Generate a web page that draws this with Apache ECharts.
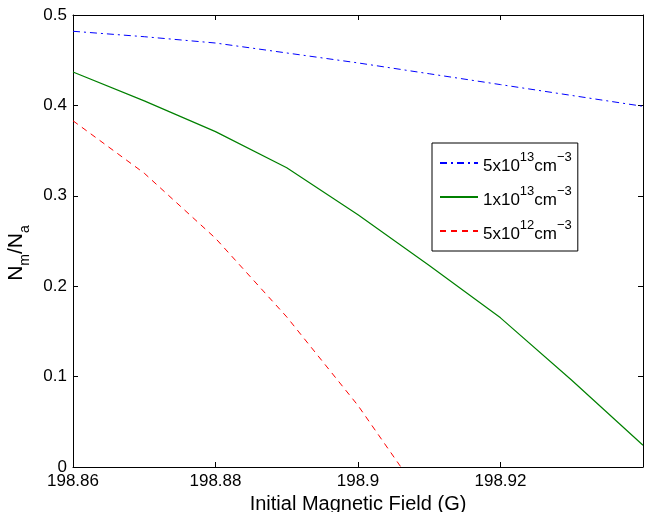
<!DOCTYPE html>
<html>
<head>
<meta charset="utf-8">
<script src="https://cdn.jsdelivr.net/npm/echarts@6/dist/echarts.min.js"></script>
<style>
  html, body { margin: 0; padding: 0; background: #fff; }
  #chart { width: 645px; height: 512px; }
</style>
</head>
<body>
<div id="chart"></div>
<script>
// 初始磁场 (G)
var fieldX = [198.86, 198.87, 198.88, 198.89, 198.90, 198.91, 198.92, 198.93, 198.94];
// N_m/N_a for three densities
var dens5e13 = [0.482, 0.476, 0.469, 0.458, 0.447, 0.435, 0.423, 0.411, 0.399];
var dens1e13 = [0.437, 0.405, 0.371, 0.331, 0.279, 0.223, 0.165, 0.096, 0.024];
var dens5e12 = [0.383, 0.325, 0.253, 0.166, 0.068, -0.045];
var seriesNames = ['5e13', '1e13', '5e12'];
var legendText = {
  '5e13': '{b|5x10}{sup|13}{b|cm}{sup|\u22123}',
  '1e13': '{b|1x10}{sup|13}{b|cm}{sup|\u22123}',
  '5e12': '{b|5x10}{sup|12}{b|cm}{sup|\u22123}'
};

function pairs(xs, ys) {
  var out = [];
  for (var i = 0; i < ys.length; i++) out.push([xs[i], ys[i]]);
  return out;
}

var chart = echarts.init(document.getElementById('chart'));
var font = 'Liberation Sans, Arial, sans-serif';

chart.setOption({
  animation: false,
  backgroundColor: '#fff',
  textStyle: { fontFamily: font, color: '#000' },
  grid: { left: 73, right: 2, top: 15, bottom: 45, containLabel: false, outerBoundsMode: 'none' },
  legend: {
    orient: 'vertical',
    left: 432,
    top: 143,
    data: seriesNames,
    backgroundColor: '#fff',
    borderColor: '#000',
    borderWidth: 1,
    padding: [8, 6, 8, 7],
    itemGap: 10,
    itemWidth: 38,
    itemHeight: 12,
    selectedMode: false,
    itemStyle: { opacity: 0 },
    formatter: function (name) { return legendText[name]; },
    textStyle: {
      fontFamily: font,
      rich: {
        b: { fontSize: 17, lineHeight: 24, color: '#000', fontFamily: font, verticalAlign: 'bottom' },
        sup: { fontSize: 13, lineHeight: 14, color: '#000', fontFamily: font, verticalAlign: 'top' }
      }
    }
  },
  xAxis: [
    {
      type: 'value',
      min: 198.86,
      max: 198.94,
      interval: 0.02,
      name: 'Initial Magnetic Field (G)',
      nameLocation: 'middle',
      nameGap: 23,
      nameTextStyle: { fontSize: 20, color: '#000', fontFamily: font },
      axisLine: { show: true, onZero: false, lineStyle: { color: '#000', width: 1 } },
      axisTick: { show: true, inside: true, length: 5, lineStyle: { color: '#000' } },
      axisLabel: {
        fontSize: 17, color: '#000', margin: 6, fontFamily: font,
        formatter: function (v) { return Math.abs(v - 198.94) < 1e-6 ? '' : String(+v.toFixed(2)); }
      },
      splitLine: { show: false }
    },
    {
      type: 'value',
      position: 'top',
      min: 198.86,
      max: 198.94,
      interval: 0.02,
      axisLine: { show: true, onZero: false, lineStyle: { color: '#000', width: 1 } },
      axisTick: { show: true, inside: true, length: 5, lineStyle: { color: '#000' } },
      axisLabel: { show: false },
      splitLine: { show: false }
    }
  ],
  yAxis: [
    {
      type: 'value',
      min: 0,
      max: 0.5,
      interval: 0.1,
      name: '{n|N}{s|m}{n|/N}{s|a}',
      nameLocation: 'middle',
      nameRotate: 90,
      nameGap: 25,
      nameTextStyle: {
        padding: [0, 24, 0, 0],
        rich: {
          n: { fontSize: 21, lineHeight: 22, color: '#000', fontFamily: font, verticalAlign: 'top' },
          s: { fontSize: 14, lineHeight: 40, color: '#000', fontFamily: font, verticalAlign: 'middle' }
        }
      },
      axisLine: { show: true, onZero: false, lineStyle: { color: '#000', width: 1 } },
      axisTick: { show: true, inside: true, length: 5, lineStyle: { color: '#000' } },
      axisLabel: { fontSize: 17, color: '#000', margin: 6, fontFamily: font },
      splitLine: { show: false }
    },
    {
      type: 'value',
      position: 'right',
      min: 0,
      max: 0.5,
      interval: 0.1,
      axisLine: { show: true, onZero: false, lineStyle: { color: '#000', width: 1 } },
      axisTick: { show: true, inside: true, length: 5, lineStyle: { color: '#000' } },
      axisLabel: { show: false },
      splitLine: { show: false }
    }
  ],
  series: [
    {
      name: '5e13',
      type: 'line',
      data: pairs(fieldX, dens5e13),
      symbol: 'none',
      clip: true,
      color: '#0000ff',
      lineStyle: { color: '#0000ff', width: 1, type: [7, 4, 2, 4] }
    },
    {
      name: '1e13',
      type: 'line',
      data: pairs(fieldX, dens1e13),
      symbol: 'none',
      clip: true,
      color: '#008000',
      lineStyle: { color: '#008000', width: 1.2, type: 'solid' }
    },
    {
      name: '5e12',
      type: 'line',
      data: pairs(fieldX, dens5e12),
      symbol: 'none',
      clip: true,
      color: '#ff0000',
      lineStyle: { color: '#ff0000', width: 1, type: [6, 5] }
    }
  ]
});
</script>
</body>
</html>
